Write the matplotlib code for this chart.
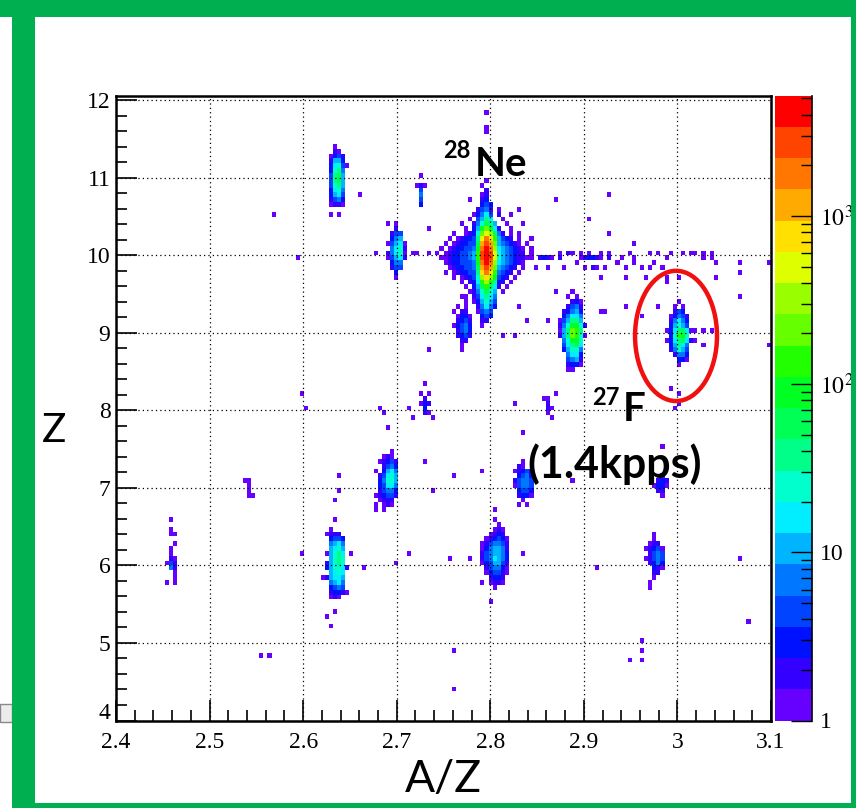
import numpy as np
import matplotlib.pyplot as plt
from matplotlib.colors import ListedColormap, LogNorm
from matplotlib.patches import Ellipse, Rectangle
from matplotlib.transforms import ScaledTranslation
from matplotlib.ticker import MultipleLocator, LogLocator, NullFormatter, FixedLocator, FixedFormatter

plt.rcParams['font.family'] = ['Liberation Serif', 'DejaVu Serif']
plt.rcParams['mathtext.fontset'] = 'stix'

W, H = 856, 808

# histogram binning (A/Z vs Z)
X_MIN, X_MAX, X_BIN = 2.4, 3.1, 0.004375
Y_MIN, Y_MAX, Y_BIN = 4.0, 12.0625, 0.0625
Z_MAX = 5200.0

# 20 colour bands of the log z axis, bottom to top
palette = ['#6600ff', '#3300ff', '#0011ff', '#0044ff', '#0077ff', '#00b4ff', '#00eeff',
           '#00ffcc', '#00ff88', '#00ff55', '#00ff22', '#22ff00', '#66ff00', '#99ff00',
           '#ddff00', '#ffe000', '#ffaa00', '#ff7700', '#ff4400', '#ff0000']
LEVELS = '123456789abcdefghijk'

# clusters: one char per bin, char = colour band ('.' empty)
# (A/Z of left column, Z of top row, rows top->bottom)
ne28_rows = [
    "............1...........",
    "...........1............",
    "............2...........",
    "...........12...........",
    "........1..23...........",
    "...........343..........",
    "..........2452.1....1...",
    ".........13574.2........",
    "........1.4697..1.......",
    "......1..258a96..1......",
    ".......1.36bdb72..1.....",
    "....1..1238dfea52.1.1...",
    "...1.123349figc6432.1..1",
    "..1.123344ahjhd654321.1.",
    ".1.1233445bikie7654321.1",
    "1.12334456cjkjf8654322.1",
    ".112334456cjkjf865432211",
    "..12334445bikie7654321..",
    "...1233445ahjhd65432.1..",
    "..1.1233449gigc5432.1...",
    "....1.12348egeb432.1....",
    "......1.237cec932.1.....",
    ".......1.36aca72.1......",
    "........1258a86.1.......",
    ".......1.247975.........",
    ".........136864.........",
    "..........25753.........",
    "..........1454..........",
    "...........343..........",
    "...........22...........",
    "...........1............",
]
na29_rows = [
    "..1...", "..21..", ".1342.", ".2663.", ".37841", ".3895.", ".49a6.", ".49a6.",
    ".4896.", ".3785.", ".3674.", ".2453.", ".1221.", "......", ".1.1..",
]
ne27_rows = [
    "1.1..", "..2..", ".244.", ".356.", "14671", ".5782", "25781", "14672", ".355.",
    ".244.", "..3..", "..1..",
]
t_rows = [".1.", "...", "121", ".4.", ".5.", ".4.", ".3."]
c6a_rows = [
    "...1...", ".......", "..1....", ".1222..", "..3443.", "..5675.", "..6786.",
    ".16897.", "..6898.", ".26898.", ".368872", "..6787.", "126776.", "..5675.",
    "..3454.", "..23321", "..121..", ".......", ".......", "...1...",
]
c7a_rows = [
    "...1..", "......", "......", "......", "......", "....1.", "..121.", ".12342",
    "..2453", "1.3675", ".24786", ".35886", ".34775", ".24553", "123442", ".1222.",
    "1.121.", "1.1...",
]
c6b_rows = [
    "...1...", ".......", "...1...", "....1..", "...121.", "..1232.", ".123431",
    "1245542", "1356652", "2456653", "2457653", "1346642", ".245531", ".134421",
    "..2332.", "1.1221.", "...1...", ".......", ".......", "..1....",
]
c7b_rows = ["..1..", ".21..", "12342", ".3453", "24554", "14554", ".3443", ".2331",
            "..1..", ".1.1."]
c6c_rows = ["..1..", "..1..", ".122.", "12341", ".2454", "12454", ".2353", "..321",
            "..22.", "..1..", ".1...", ".1..."]
c7c_rows = ["..1.", ".232", "1331", ".22.", "..1."]
b8a_rows = [".1.", "...", "1.1", ".2.", "132", ".3.", ".21"]
b9_rows = ["..11.", "...1.", ".1.1.", "1.22.", ".1331", ".2342", "13453", ".2453",
           ".2342", "..22.", "..1.."]
f26_rows = [
    "...1...", "..1.1..", "...231.", "..2452.", ".23563.", ".35775.", "146996.",
    "258bb82", "169dc9.", "269dc81", ".58bb8.", ".479a7.", ".36885.", "..5773.",
    "..4562.", "..2331.", "...1...",
]
f27_rows = [
    "...1...", "..1.1..", "..243..", ".13542.", ".25753.", ".36864.", "1379a71",
    ".38cb8.", "1379a72", ".36975.", ".25864.", "..2553.", "...331.", "...1...",
]
b8b_rows = ["11.", ".2.", ".21", ".1.", "..1"]
b6_rows = [".1.", "...", ".1.", ".11", "...", "..1", ".1.", ".1.", ".21", "142", ".52",
           "..1", "..1", "1.1"]
b7_rows = ["11.", ".1.", ".1.", ".11"]

clusters = [
    (2.74500, 10.97, ne28_rows), (2.62700, 11.41, na29_rows), (2.68925, 10.41, ne27_rows),
    (2.72170, 11.06, t_rows), (2.62090, 6.58, c6a_rows), (2.67760, 7.78, c7a_rows),
    (2.79090, 6.72, c6b_rows), (2.82625, 7.34, c7b_rows), (2.96625, 6.42, c6c_rows),
    (2.97460, 7.14, c7c_rows), (2.72560, 8.34, b8a_rows), (2.76110, 9.46, b9_rows),
    (2.87320, 9.50, f26_rows), (2.98650, 9.42, f27_rows), (2.85820, 8.14, b8b_rows),
    (2.45650, 6.58, b6_rows), (2.53690, 7.12, b7_rows),
]

# sparse bins (A/Z, Z, colour band)
streak_cells = [
    (2.8763, 10.044, 1), (2.8834, 10.044, 2), (2.8888, 10.044, 1), (2.8977, 10.044, 1),
    (2.9048, 10.044, 1), (2.9173, 10.044, 1), (2.9280, 10.044, 1), (2.9493, 10.044, 1),
    (2.9689, 10.044, 1), (2.9796, 10.044, 1), (2.9920, 10.044, 1), (3.0063, 10.044, 1),
    (3.0134, 10.044, 1), (3.0206, 10.044, 1), (3.0366, 10.044, 1),
    (2.8525, 9.966, 2), (2.8560, 9.966, 3), (2.8595, 9.966, 2), (2.8660, 9.966, 1),
    (2.8730, 9.966, 2), (2.8977, 9.966, 1), (2.9012, 9.966, 2), (2.9047, 9.966, 3),
    (2.9082, 9.966, 2), (2.9117, 9.966, 3), (2.9152, 9.966, 2), (2.9187, 9.966, 1),
    (2.9257, 9.966, 2), (2.9400, 9.966, 1), (2.9550, 9.966, 1), (2.9880, 9.966, 1),
    (3.0300, 9.966, 1), (3.0270, 10.000, 1), (3.0350, 9.980, 1),
    (2.8500, 9.870, 1), (2.8620, 9.870, 1), (2.8800, 9.870, 1), (2.9010, 9.870, 1),
    (2.9080, 9.870, 2), (2.9150, 9.870, 1), (2.9250, 9.870, 1), (2.9450, 9.870, 1),
    (2.9600, 9.870, 1), (2.9700, 9.870, 1), (2.9850, 9.870, 1),
    (2.8900, 9.920, 1), (2.9350, 9.920, 1), (2.9530, 9.920, 1), (2.9750, 9.920, 1),
    (3.0410, 9.930, 1), (3.0670, 9.930, 1), (3.0960, 9.890, 1),
    (2.9170, 9.730, 1), (2.9460, 9.730, 1), (2.9680, 9.730, 1), (2.9900, 9.730, 1),
    (3.0400, 9.700, 1), (3.0690, 9.800, 1), (3.0670, 9.440, 1), (3.0970, 8.820, 1),
]
lone_cells = [
    (2.5700, 10.50, 1), (2.5934, 9.98, 1), (2.6287, 5.19, 1), (2.5988, 6.14, 1),
    (2.7623, 4.39, 1), (2.7590, 4.88, 1), (2.9150, 5.95, 1), (2.9510, 4.81, 1),
    (2.9600, 4.78, 1), (2.9600, 4.91, 1), (2.9600, 5.04, 1), (3.0740, 5.27, 1),
    (3.0690, 6.08, 1), (2.7940, 11.84, 1), (2.7940, 11.64, 1), (2.7940, 11.60, 1),
    (2.5990, 8.24, 1), (2.6040, 8.00, 1), (2.6800, 8.00, 1), (2.6860, 7.97, 1),
    (2.7110, 8.00, 1), (2.7350, 8.77, 1), (2.7320, 7.34, 1), (2.7170, 7.89, 1),
    (2.7380, 7.89, 1), (2.7600, 7.18, 1), (2.7930, 7.24, 1), (2.7410, 6.94, 1),
    (2.6370, 7.18, 1), (2.6370, 6.94, 1), (2.6340, 6.86, 1), (2.7110, 6.18, 1),
    (2.7570, 6.11, 1), (2.7770, 6.11, 1), (2.8340, 6.18, 1), (2.8340, 7.69, 1),
    (2.6266, 5.34, 1), (2.6500, 6.18, 1), (2.6660, 5.96, 1), (2.6980, 6.04, 1),
    (2.6610, 10.78, 1), (2.6786, 10.05, 1), (2.7090, 10.05, 1), (2.7160, 10.05, 1),
    (2.7220, 10.05, 1), (2.7350, 10.33, 1), (2.7350, 10.05, 1), (2.8690, 10.71, 1),
    (2.9260, 10.78, 1), (2.9040, 10.47, 1), (2.9280, 10.26, 1), (2.9530, 10.18, 1),
    (2.8210, 10.56, 1), (2.8370, 10.39, 1), (2.8690, 9.50, 1), (2.9170, 9.27, 1),
    (2.9210, 9.27, 1), (2.9460, 9.35, 1), (2.9630, 9.21, 1), (2.9780, 9.35, 1),
    (2.9890, 9.66, 1), (3.0030, 9.72, 1), (2.8320, 9.35, 1), (2.8390, 9.14, 1),
    (2.8600, 9.14, 1), (2.8140, 8.96, 1), (2.8260, 8.96, 1), (2.7330, 8.75, 1),
    (2.7700, 8.75, 1), (3.0170, 9.00, 1), (3.0300, 9.00, 1), (3.0370, 9.00, 1),
    (3.0270, 8.83, 1), (3.0190, 8.90, 1), (2.8690, 8.22, 1), (2.8286, 8.08, 1),
    (2.8850, 8.51, 1), (2.9850, 7.54, 1), (2.8870, 7.11, 1), (2.5560, 4.82, 1),
    (2.5625, 4.82, 1), (2.9920, 8.30, 1), (3.0000, 8.22, 1), (3.0000, 8.10, 1),
    (2.9950, 8.05, 1),
]


def put(grid, x, z, level):
    i = int(np.floor((x - X_MIN) / X_BIN))
    j = int(np.floor((z - Y_MIN) / Y_BIN))
    if 0 <= i < grid.shape[1] and 0 <= j < grid.shape[0]:
        count = 10 ** ((level - 0.5) / 20 * np.log10(Z_MAX))
        grid[j, i] = max(grid[j, i], count)


xedges = np.arange(X_MIN, X_MAX + 1e-9, X_BIN)
yedges = np.arange(Y_MIN, Y_MAX + 1e-9, Y_BIN)
counts = np.zeros((len(yedges) - 1, len(xedges) - 1))
for x_left, z_top, rows in clusters:
    for r, row in enumerate(rows):
        for c, ch in enumerate(row):
            if ch != '.':
                put(counts, x_left + c * X_BIN, z_top - r * Y_BIN, LEVELS.index(ch) + 1)
for x, z, level in streak_cells + lone_cells:
    put(counts, x, z, level)

fig = plt.figure(figsize=(W / 100, H / 100), dpi=100)
ax = fig.add_axes([116 / W, 1 - 720.5 / H, 655 / W, 625 / H])
cax = fig.add_axes([775 / W, 1 - 720.5 / H, 37 / W, 625 / H])

cmap = ListedColormap(palette)
norm = LogNorm(vmin=1, vmax=Z_MAX)
mesh = ax.pcolormesh(xedges, yedges, np.ma.masked_equal(counts, 0), cmap=cmap, norm=norm,
                     shading='flat', edgecolors='none', antialiased=False, zorder=1)

ax.set_xlim(2.4, 3.1)
ax.set_ylim(4, 12.0625)
ax.set_xticks(np.arange(2.4, 3.101, 0.1))
ax.set_xticklabels(['2.4', '2.5', '2.6', '2.7', '2.8', '2.9', '3', '3.1'])
ax.set_yticks(np.arange(4, 12.01, 1))
ax.xaxis.set_minor_locator(MultipleLocator(0.02))
ax.yaxis.set_minor_locator(MultipleLocator(0.2))
ax.tick_params(which='both', direction='in', top=False, right=False, width=1.2, labelsize=17)
ax.tick_params(which='major', length=15)
ax.tick_params(which='minor', length=8)
ax.tick_params(axis='x', pad=8)
ax.tick_params(axis='y', pad=4)
ax.set_axisbelow(False)
ax.grid(True, which='major', color='k', linestyle=(0, (1, 2.5)), linewidth=0.9)
for s in ax.spines.values():
    s.set_linewidth(1.8)
fig.canvas.draw()
lab4 = ax.get_yticklabels()[0]
lab4.set_transform(lab4.get_transform() + ScaledTranslation(0, 7 / 72, fig.dpi_scale_trans))

cb = fig.colorbar(mesh, cax=cax)
cb.outline.set_visible(False)
cax.yaxis.set_major_locator(FixedLocator([1, 10, 100, 1000]))
cax.yaxis.set_major_formatter(FixedFormatter(['1', '10', '$10^{2}$', '$10^{3}$']))
cax.yaxis.set_minor_locator(LogLocator(base=10, subs=np.arange(2, 10)))
cax.yaxis.set_minor_formatter(NullFormatter())
cax.tick_params(which='both', direction='in', right=True, left=False, width=1.0,
                labelsize=17, pad=6, color='k')
cax.tick_params(which='major', length=15)
cax.tick_params(which='minor', length=8)
cax.plot([1, 1], [0, 1], transform=cax.transAxes, color='k', lw=1.2, clip_on=False)

# red ring around 27F
ax.add_patch(Ellipse((2.9985, 8.961), 0.0876, 1.68, fill=False, ec='#f01010', lw=3.2,
                     zorder=5, clip_on=False))


def fx(px):
    return px / W


def fy(py):
    return 1 - py / H


sans = ['Lato', 'DejaVu Sans']
fig.text(fx(443), fy(158), '28', fontsize=17, fontweight='bold', family=sans, va='baseline')
fig.text(fx(475), fy(176), 'Ne', fontsize=29, fontweight='bold', family=sans, va='baseline')
fig.text(fx(592), fy(405), '27', fontsize=17, fontweight='bold', family=sans, va='baseline')
fig.text(fx(623), fy(421), 'F', fontsize=29, fontweight='bold', family=sans, va='baseline')
fig.text(fx(527), fy(478), '(1.4kpps)', fontsize=31, fontweight='bold', family=sans,
         va='baseline')
fig.text(fx(42), fy(442), 'Z', fontsize=29, family=sans, va='baseline')
fig.text(fx(443), fy(792), 'A/Z', fontsize=32, family=sans, va='baseline', ha='center')

# slide frame
green = '#00b050'
fig.patches.append(Rectangle((0, fy(722)), 12 / W, 18 / H, transform=fig.transFigure,
                             fc='#ececec', ec='#888888', lw=1.0))
for x0, y0, w, h in [(12, 0, 23, H), (0, 0, W, 17), (851, 0, 5, H), (12, 803, W, 5)]:
    fig.patches.append(Rectangle((fx(x0), fy(y0 + h)), w / W, h / H,
                                 transform=fig.transFigure, fc=green, ec='none', zorder=10))

fig.savefig('out.png', dpi=100)
